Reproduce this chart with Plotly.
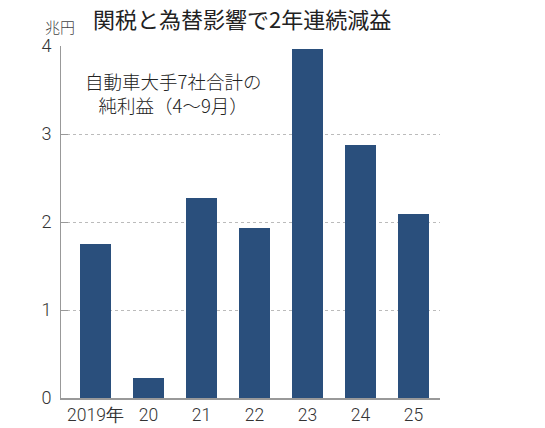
import plotly.graph_objects as go

categories = ["2019年", "20", "21", "22", "23", "24", "25"]
values = [1.75, 0.23, 2.27, 1.93, 3.97, 2.87, 2.09]
y_ticks = [0, 1, 2, 3, 4]

title_text = "関税と為替影響で2年連続減益"
unit_text = "兆円"
note_text = "自動車大手7社合計の<br>純利益（4～9月）"

num_font = "Liberation Sans Narrow, Arial Narrow, Roboto, sans-serif"
jp_font = "Noto Sans CJK JP, sans-serif"

fig = go.Figure()
fig.add_trace(go.Bar(
    x=list(range(len(categories))),
    y=values,
    width=0.58,
    marker=dict(color="#2a4f7c", line=dict(width=0)),
    hoverinfo="skip",
))

fig.update_layout(
    width=545, height=428,
    margin=dict(l=61, r=105, t=46, b=30, autoexpand=False),
    paper_bgcolor="white", plot_bgcolor="white",
    showlegend=False,
    bargap=0,
    xaxis=dict(
        range=[-0.65, 6.5],
        tickmode="array",
        tickvals=list(range(len(categories))),
        ticktext=categories,
        showgrid=False,
        showline=True, linecolor="#999999", linewidth=1.5,
        ticks="",
        automargin=False,
        tickfont=dict(family=num_font, size=17.5, color="#333333", weight=300),
        fixedrange=True,
    ),
    yaxis=dict(
        range=[0, 4],
        tickmode="array",
        tickvals=y_ticks,
        ticktext=[str(v) for v in y_ticks],
        showgrid=True, gridcolor="#bbbbbb", griddash="dot", gridwidth=1,
        showline=True, linecolor="#999999", linewidth=1,
        ticks="inside", ticklen=7, tickcolor="#999999",
        zeroline=False,
        automargin=False,
        ticklabelstandoff=5,
        tickfont=dict(family=num_font, size=18, color="#333333", weight=300),
        fixedrange=True,
    ),
    annotations=[
        dict(text=title_text, xref="paper", yref="paper", x=0.478, y=1.08,
             xanchor="center", yanchor="middle", showarrow=False,
             font=dict(family=jp_font, size=22, color="#222222", weight=400)),
        dict(text=unit_text, xref="paper", yref="paper", x=-0.002, y=1.054,
             xanchor="center", yanchor="middle", showarrow=False,
             font=dict(family=jp_font, size=15, color="#444444", weight=300)),
        dict(text=note_text, xref="paper", yref="paper", x=0.296, y=0.866,
             xanchor="center", yanchor="middle", showarrow=False, align="center",
             font=dict(family=jp_font, size=18.5, color="#222222", weight=300)),
    ],
)

fig.write_html(
    "out.html",
    config={"displayModeBar": False},
    post_script="document.body.style.margin='0';document.body.style.overflow='hidden';",
)
